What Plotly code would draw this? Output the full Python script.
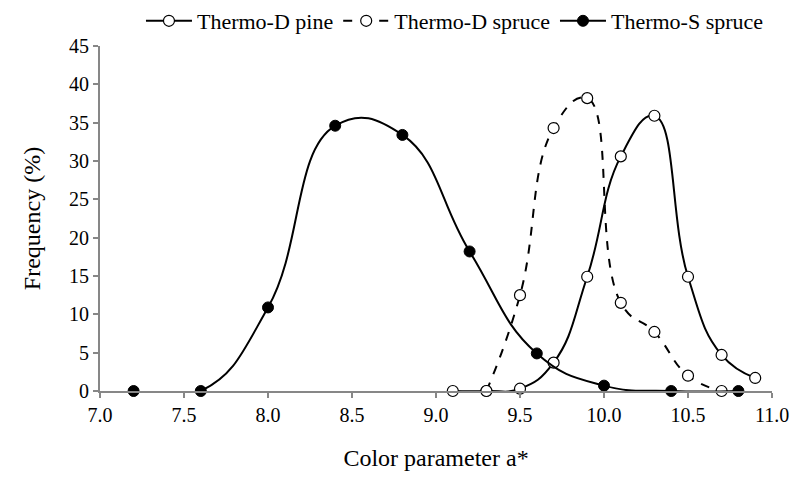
import plotly.graph_objects as go

# Colour parameter a* classes and frequency (%) per wood product
pine_x = [9.1, 9.3, 9.5, 9.7, 9.9, 10.1, 10.3, 10.5, 10.7, 10.9]
pine_y = [0.0, 0.0, 0.3, 3.7, 14.9, 30.6, 35.9, 14.9, 4.7, 1.7]

spruce_d_x = [9.3, 9.5, 9.7, 9.9, 10.1, 10.3, 10.5, 10.7]
spruce_d_y = [0.0, 12.5, 34.3, 38.2, 11.5, 7.7, 2.0, 0.0]

spruce_s_x = [7.2, 7.6, 8.0, 8.4, 8.8, 9.2, 9.6, 10.0, 10.4, 10.8]
spruce_s_y = [0.0, 0.0, 10.9, 34.6, 33.4, 18.2, 4.9, 0.7, 0.0, 0.0]

x_ticks = [7.0, 7.5, 8.0, 8.5, 9.0, 9.5, 10.0, 10.5, 11.0]
y_ticks = [0, 5, 10, 15, 20, 25, 30, 35, 40, 45]

FONT = "Liberation Serif"
AXIS_GREY = "#878787"

fig = go.Figure()

open_marker = dict(symbol="circle", size=11, color="white",
                   line=dict(color="black", width=1.2))
solid_marker = dict(symbol="circle", size=11, color="black",
                    line=dict(color="black", width=1))

fig.add_trace(go.Scatter(
    x=pine_x, y=pine_y, name="Thermo-D pine", mode="lines+markers",
    line=dict(color="black", width=2, shape="spline", smoothing=1.3),
    marker=open_marker, cliponaxis=False))
fig.add_trace(go.Scatter(
    x=spruce_d_x, y=spruce_d_y, name="Thermo-D spruce", mode="lines+markers",
    line=dict(color="black", width=2, dash="dash", shape="spline", smoothing=1.3),
    marker=open_marker, cliponaxis=False))
fig.add_trace(go.Scatter(
    x=spruce_s_x, y=spruce_s_y, name="Thermo-S spruce", mode="lines+markers",
    line=dict(color="black", width=2, shape="spline", smoothing=1.3),
    marker=solid_marker, cliponaxis=False))

fig.update_layout(
    width=794, height=477,
    margin=dict(l=100, r=22, t=46, b=86, autoexpand=False),
    paper_bgcolor="white", plot_bgcolor="white",
    font=dict(family=FONT, size=20, color="black"),
    legend=dict(orientation="h", xref="container", x=0.573, xanchor="center",
                yref="container", y=1.0, yanchor="top",
                font=dict(family=FONT, size=22), itemwidth=46,
                tracegroupgap=0, bgcolor="rgba(0,0,0,0)"),
    showlegend=True,
)

fig.update_xaxes(
    range=[7.0, 11.0], tickvals=x_ticks,
    ticktext=[f"{v:.1f}" for v in x_ticks],
    showgrid=False, zeroline=False,
    showline=True, linecolor=AXIS_GREY, linewidth=2,
    ticks="outside", tickcolor=AXIS_GREY, tickwidth=2, ticklen=5,
    tickfont=dict(family=FONT, size=20),
    title=dict(text="Color parameter a*", font=dict(family=FONT, size=24), standoff=24),
)
fig.update_yaxes(
    range=[0, 45], tickvals=y_ticks,
    showgrid=False, zeroline=False,
    showline=True, linecolor=AXIS_GREY, linewidth=2,
    ticks="outside", tickcolor=AXIS_GREY, tickwidth=2, ticklen=5,
    tickfont=dict(family=FONT, size=20),
    title=dict(text="Frequency (%)", font=dict(family=FONT, size=24), standoff=22),
)

fig.write_html("out.html")
